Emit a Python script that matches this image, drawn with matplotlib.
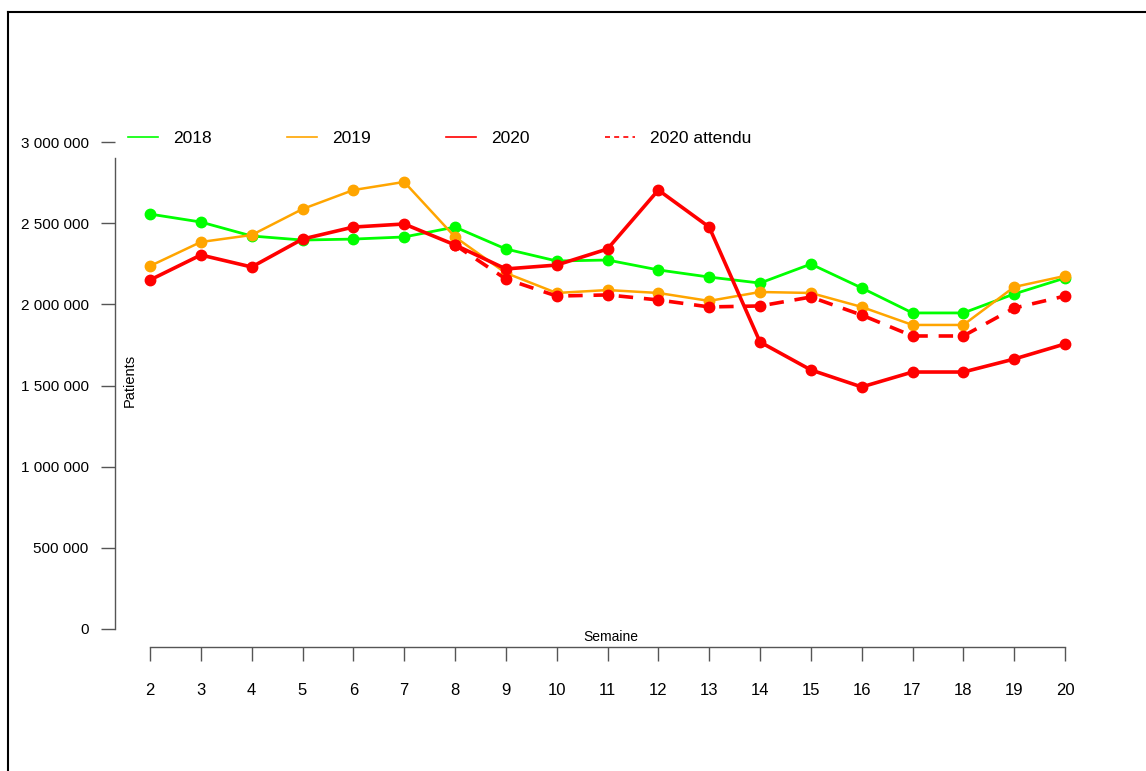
import matplotlib
matplotlib.use("Agg")
import matplotlib.pyplot as plt
from matplotlib.lines import Line2D
import numpy as np

plt.rcParams['font.family'] = ['Liberation Sans', 'DejaVu Sans']

weeks = list(range(2, 21))
v2018 = [2556000, 2507000, 2421000, 2396000, 2402000, 2415000, 2476000, 2341000, 2267000,
         2273000, 2212000, 2168000, 2131000, 2248000, 2101000, 1947000, 1947000, 2064000, 2162000]
v2019 = [2236000, 2384000, 2427000, 2587000, 2704000, 2754000, 2415000, 2193000, 2070000,
         2088000, 2070000, 2021000, 2076000, 2070000, 1984000, 1873000, 1873000, 2107000, 2175000]
v2020 = [2150000, 2304000, 2230000, 2402000, 2476000, 2495000, 2366000, 2218000, 2242000,
         2341000, 2704000, 2476000, 1768000, 1596000, 1491000, 1583000, 1583000, 1663000, 1756000]
v2020_att = [np.nan, np.nan, np.nan, np.nan, np.nan, np.nan, 2366000, 2156000, 2051000,
             2058000, 2027000, 1984000, 1990000, 2045000, 1934000, 1805000, 1805000, 1977000, 2051000]

yticks = [0, 500000, 1000000, 1500000, 2000000, 2500000, 3000000]
ytick_labels = ["0", "500 000", "1 000 000", "1 500 000", "2 000 000", "2 500 000", "3 000 000"]
series_labels = ["2018", "2019", "2020", "2020 attendu"]

C_GREEN = "#00FF00"
C_ORANGE = "#FFA500"
C_RED = "#FF0000"

W, H = 1146, 771
fig = plt.figure(figsize=(W / 100, H / 100), dpi=100)

# axes placement in pixels
x_left_px, x_right_px = 115, 1100
y_top_px, y_bot_px = 142, 629
ax = fig.add_axes([x_left_px / W, 1 - y_bot_px / H, (x_right_px - x_left_px) / W, (y_bot_px - y_top_px) / H])

px_per_week = (1065 - 150) / 18
ax.set_xlim(2 - (150 - x_left_px) / px_per_week, 20 + (x_right_px - 1065) / px_per_week)
ax.set_ylim(0, 3000000)

ax.plot(weeks, v2018, color=C_GREEN, lw=2.0, marker='o', ms=7.5, clip_on=False, zorder=3)
ax.plot(weeks, v2019, color=C_ORANGE, lw=1.8, marker='o', ms=7.5, clip_on=False, zorder=4)
ax.plot(weeks, v2020_att, color=C_RED, lw=2.6, marker='o', ms=7.5, dashes=(4, 3), clip_on=False, zorder=5)
ax.plot(weeks, v2020, color=C_RED, lw=2.6, marker='o', ms=7.5, clip_on=False, zorder=6)

axis_gray = "#555555"
for s in ['top', 'right']:
    ax.spines[s].set_visible(False)
ax.spines['left'].set_color(axis_gray)
ax.spines['bottom'].set_color(axis_gray)
ax.spines['left'].set_linewidth(1.0)
ax.spines['bottom'].set_linewidth(1.0)
ax.spines['left'].set_bounds(0, 2900000)
ax.spines['bottom'].set_position(('outward', 13))
ax.spines['bottom'].set_bounds(2, 20)

ax.set_yticks(yticks)
ax.set_yticklabels(ytick_labels)
ax.set_xticks(weeks)
ax.set_xticklabels([str(w) for w in weeks])
ax.tick_params(axis='y', length=10, width=1.0, color=axis_gray, pad=9, labelsize=11)
ax.tick_params(axis='x', length=10, width=1.0, color=axis_gray, pad=16, labelsize=12)

fig.text(611 / W, 1 - 637 / H, "Semaine", ha='center', va='center', fontsize=10)
fig.text(130 / W, 1 - 380 / H, "Patients", ha='center', va='center', fontsize=10.5, rotation=90)

handles = [
    Line2D([], [], color=C_GREEN, lw=1.2),
    Line2D([], [], color=C_ORANGE, lw=1.2),
    Line2D([], [], color=C_RED, lw=1.2),
    Line2D([], [], color=C_RED, lw=1.2, dashes=(3, 2.5)),
]
fig.legend(handles, series_labels, loc='center left', bbox_to_anchor=(128 / W, 1 - 138 / H),
           ncol=4, frameon=False, fontsize=12.5, handlelength=1.73, handletextpad=0.86,
           columnspacing=4.34, borderpad=0, borderaxespad=0)

# outer frame (left and top lines)
fig.add_artist(Line2D([8 / W, 8 / W], [0, 1 - 12 / H], transform=fig.transFigure, color='black', lw=1.5))
fig.add_artist(Line2D([8 / W, 1], [1 - 12 / H, 1 - 12 / H], transform=fig.transFigure, color='black', lw=1.5))

fig.savefig("out.png", dpi=100)
